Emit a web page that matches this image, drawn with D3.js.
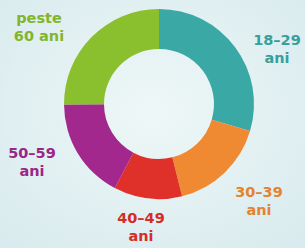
<!DOCTYPE html>
<html>
<head>
<meta charset="utf-8">
<script src="https://cdn.jsdelivr.net/npm/d3@7"></script>
<style>
    html, body { margin: 0; padding: 0; }
    body { width: 305px; height: 248px; overflow: hidden; background: #e3f0f1; }
</style>
</head>
<body>
<div class="chart"></div>
<script>
// categories, shares (percent) and label lines
var ageGroups = ['18-29', '30-39', '40-49', '50-59', 'peste60'];
var shares = [29.6, 16.5, 11.6, 17.2, 25.1];
var labelLines = [['18–29', 'ani'], ['30–39', 'ani'], ['40–49', 'ani'], ['50–59', 'ani'], ['peste', '60 ani']];
var colors = ['#3aa9a6', '#ef8a33', '#e0302a', '#a2288e', '#8abf2e'];

var chart = {
    width: 305,
    height: 248,
    draw: function () {
        this.defineComponents();
        this.addSlices();
        this.addLabels();
    },
    defineComponents: function () {
        this.cx = 159;
        this.cy = 104;
        this.outer = 95;
        this.inner = 55;

        this.svg = d3.select('.chart')
            .append('svg')
            .attr('width', this.width)
            .attr('height', this.height);

        // soft background wash
        var grad = this.svg.append('defs').append('radialGradient')
            .attr('id', 'bg').attr('cx', '50%').attr('cy', '45%').attr('r', '70%');
        grad.append('stop').attr('offset', '0%').attr('stop-color', '#eef7f7');
        grad.append('stop').attr('offset', '100%').attr('stop-color', '#d9ebee');
        this.svg.append('rect')
            .attr('width', this.width).attr('height', this.height)
            .attr('fill', 'url(#bg)');

        this.g = this.svg.append('g')
            .attr('transform', 'translate(' + this.cx + ',' + this.cy + ')');

        this.pie = d3.pie().sort(null).value(function (d) { return d; });
        this.arc = d3.arc().innerRadius(this.inner).outerRadius(this.outer);
    },
    addSlices: function () {
        var that = this;
        this.g.selectAll('.slice')
            .data(this.pie(shares))
            .enter()
            .append('path')
            .attr('class', 'slice')
            .attr('fill', function (d, i) { return colors[i]; })
            .attr('d', that.arc);
    },
    addLabels: function () {
        // label anchor spots
        var spots = [[277, 45], [259, 197], [141, 223], [32, 158], [39, 23]];
        var labels = this.svg.selectAll('.label')
            .data(labelLines)
            .enter()
            .append('text')
            .attr('class', 'label')
            .attr('text-anchor', 'middle')
            .attr('fill', function (d, i) { return d3.color(colors[i]).darker(0.15); })
            .style('font-family', '"DejaVu Sans", sans-serif')
            .style('font-weight', 'bold')
            .style('font-size', '14.5px');

        labels.each(function (d, i) {
            var t = d3.select(this);
            d.forEach(function (line, j) {
                t.append('tspan')
                    .attr('x', spots[i][0])
                    .attr('y', spots[i][1] + j * 18)
                    .text(line);
            });
        });
    }
};

chart.draw();
</script>
</body>
</html>
